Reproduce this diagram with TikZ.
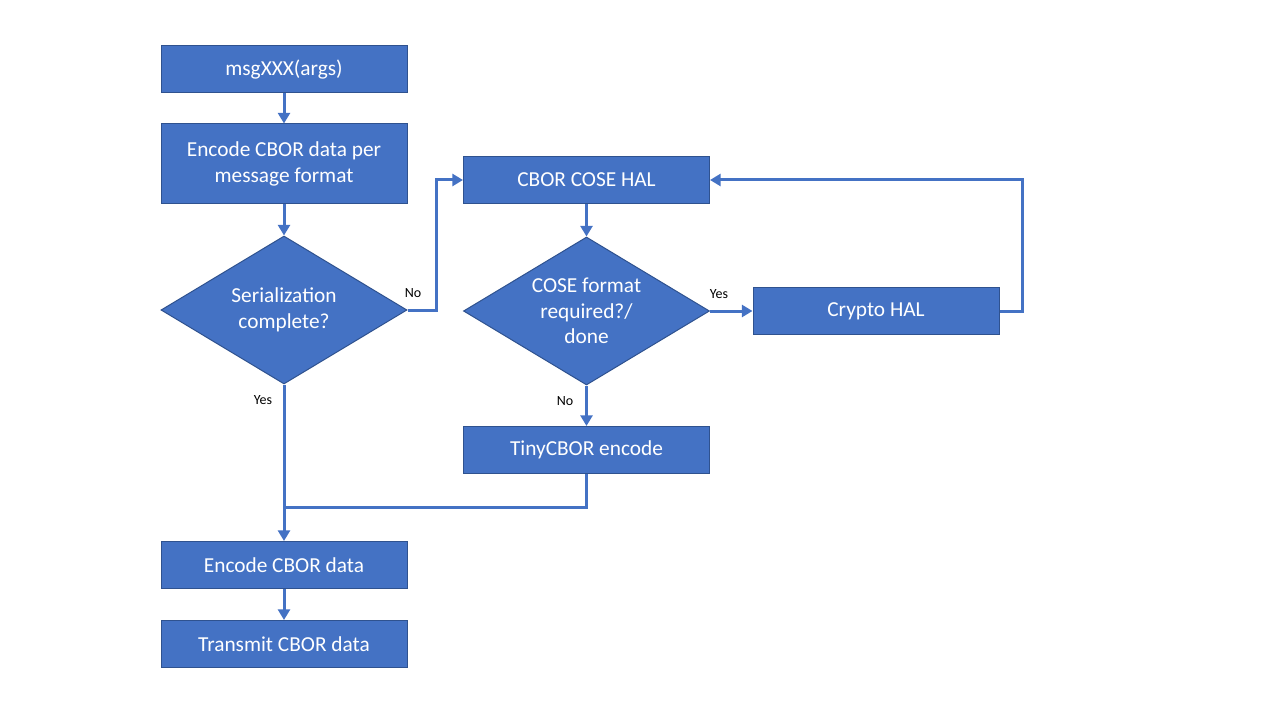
\documentclass[tikz,border=0pt]{standalone}
\usepackage{fontspec}
\setmainfont{Carlito}
\usetikzlibrary{shapes.geometric,arrows.meta}
\definecolor{boxblue}{HTML}{4472C4}
\definecolor{boxedge}{HTML}{2F528F}
\begin{document}
\begin{tikzpicture}[x=0.75pt,y=-0.75pt,
	block/.style={rectangle, fill=boxblue, draw=boxedge, line width=0.75pt, text=white, inner sep=0pt, minimum width=184.5pt, minimum height=35.25pt, align=center, font=\fontsize{16}{19.2}\selectfont},
	decision/.style={diamond, aspect=1.66, fill=boxblue, draw=boxedge, line width=0.75pt, text=white, inner sep=0pt, minimum width=184.5pt, minimum height=111pt, align=center, font=\fontsize{16}{19.2}\selectfont},
	flow/.style={draw=boxblue, line width=2.25pt},
	arr/.style={flow, -{Triangle[length=8pt,width=9pt]}},
	lbl/.style={text=black, inner sep=0pt, font=\fontsize{10.5}{12}\selectfont}]
			\useasboundingbox (0,0) rectangle (1280,720);
			% left column
			\node [block] (msg) at (284,69.5) {msgXXX(args)};
			\node [block, minimum height=60pt] (per) at (284,164) {Encode CBOR data per\\message format};
			\node [decision] (ser) at (284,310) {Serialization\\complete?};
			\node [block] (enc) at (284,565) {Encode CBOR data};
			\node [block] (tx) at (284,644) {Transmit CBOR data};
			% right part
			\node [block] (hal) at (586.5,180) {CBOR COSE HAL};
			\node [decision] (cose) at (586.5,311) {COSE format\\required?/\\done};
			\node [block] (crypto) at (876,311) {Crypto HAL};
			\node [block] (tiny) at (586.5,450) {TinyCBOR encode};
			\coordinate (join) at (284,507);
			% branch labels
			\node [lbl] (no1) at (413,293) {No};
			\node [lbl] (yes1) at (263,400) {Yes};
			\node [lbl] (yes2) at (719,294) {Yes};
			\node [lbl] (no2) at (565,401) {No};
			% connectors
			\draw [arr] (msg) -- (per);
			\draw [arr] (per) -- (ser);
			\draw [arr] (ser.east) -- ++(29,0) |- (hal.west);
			\draw [arr] (ser.south) -- (enc.north);
			\draw [arr] (hal) -- (cose.north);
			\draw [arr] (cose.east) -- (crypto.west);
			\draw [arr] (crypto.east) -- ++(23,0) |- (hal.east);
			\draw [arr] (cose.south) -- (tiny.north);
			\draw [flow] (tiny.south) |- (join);
			\draw [arr] (enc) -- (tx);
		\end{tikzpicture}
\end{document}
